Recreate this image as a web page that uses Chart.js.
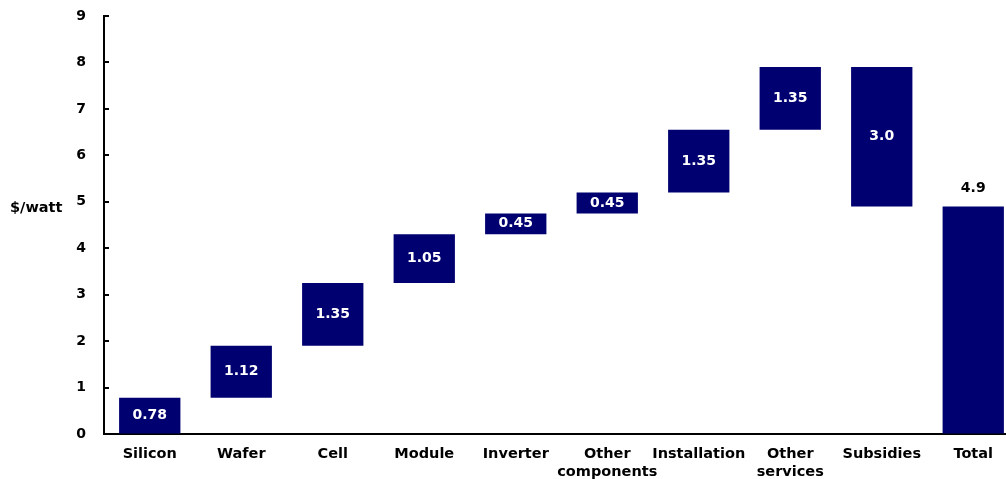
<!DOCTYPE html>
<html>
<head>
<meta charset="utf-8">
<script src="https://cdn.jsdelivr.net/npm/chart.js@4"></script>
<style>
html,body{margin:0;padding:0;background:#fff;overflow:hidden;}
#wrap{position:absolute;left:0;top:0;width:1022px;height:479px;}
</style>
</head>
<body>
<div id="wrap"><canvas id="c" width="1022" height="479"></canvas></div>
<script>
const categories = [['Silicon'], ['Wafer'], ['Cell'], ['Module'], ['Inverter'], ['Other', 'components'], ['Installation'], ['Other', 'services'], ['Subsidies'], ['Total']];
const barBottoms = [0, 0.78, 1.90, 3.25, 4.30, 4.75, 5.20, 6.55, 4.90, 0];
const barTops    = [0.78, 1.90, 3.25, 4.30, 4.75, 5.20, 6.55, 7.90, 7.90, 4.90];
const valueLabels = ['0.78', '1.12', '1.35', '1.05', '0.45', '0.45', '1.35', '1.35', '3.0', '4.9'];
const yTicks = [0, 1, 2, 3, 4, 5, 6, 7, 8, 9];

const FONT = '"DejaVu Sans", Verdana, sans-serif';
const NAVY = '#000070';

const labelPlugin = {
  id: 'barLabels',
  afterDatasetsDraw(chart) {
    const ctx = chart.ctx;
    const meta = chart.getDatasetMeta(0);
    const ys = chart.scales.y;
    ctx.save();
    // inner tick marks on the y axis
    ctx.strokeStyle = '#000';
    ctx.lineWidth = 2;
    const ax = chart.chartArea.left;
    yTicks.forEach(v => {
      const py = Math.round(ys.getPixelForValue(v));
      ctx.beginPath();
      ctx.moveTo(ax, py);
      ctx.lineTo(ax + 5, py);
      ctx.stroke();
    });
    ctx.font = 'bold 14px ' + FONT;
    ctx.textAlign = 'center';
    ctx.textBaseline = 'middle';
    meta.data.forEach((bar, i) => {
      const top = Math.min(bar.y, bar.base);
      const bot = Math.max(bar.y, bar.base);
      if (i === meta.data.length - 1) {
        ctx.fillStyle = '#000';
        ctx.fillText(valueLabels[i], bar.x, top - 18);
      } else {
        ctx.fillStyle = '#fff';
        ctx.fillText(valueLabels[i], bar.x, (top + bot) / 2);
      }
    });
    // y-axis title, horizontal
    ctx.fillStyle = '#000';
    ctx.font = 'bold 14.5px ' + FONT;
    ctx.textAlign = 'left';
    ctx.fillText('$/watt', 10, ys.getPixelForValue(4.87));
    ctx.restore();
  }
};

new Chart(document.getElementById('c'), {
  type: 'bar',
  data: {
    labels: categories,
    datasets: [{
      data: barBottoms.map((b, i) => [b, barTops[i]]),
      backgroundColor: NAVY,
      borderWidth: 0,
      barPercentage: 0.67,
      categoryPercentage: 1.0
    }]
  },
  options: {
    responsive: false,
    animation: false,
    devicePixelRatio: 1,
    layout: { padding: { top: 16, right: 3, left: 0, bottom: 0 } },
    plugins: { legend: { display: false }, tooltip: { enabled: false } },
    scales: {
      x: {
        grid: { display: true, drawOnChartArea: false, drawTicks: false },
        border: { display: true, color: '#000', width: 2 },
        ticks: {
          color: '#000',
          font: { family: FONT, size: 14.5, weight: 'bold' },
          padding: 12,
          maxRotation: 0,
          autoSkip: false
        },
        afterFit(scale) { scale.height = 45; }
      },
      y: {
        min: 0,
        max: 9,
        afterBuildTicks(scale) { scale.ticks = yTicks.map(v => ({ value: v })); },
        grid: { display: true, drawOnChartArea: false, drawTicks: true, tickLength: 18, color: 'rgba(0,0,0,0)' },
        border: { display: true, color: '#000', width: 2 },
        ticks: {
          color: '#000',
          font: { family: FONT, size: 14, weight: 'bold' },
          padding: 0
        },
        afterFit(scale) { scale.width = 104; }
      }
    }
  },
  plugins: [labelPlugin]
});
</script>
</body>
</html>
